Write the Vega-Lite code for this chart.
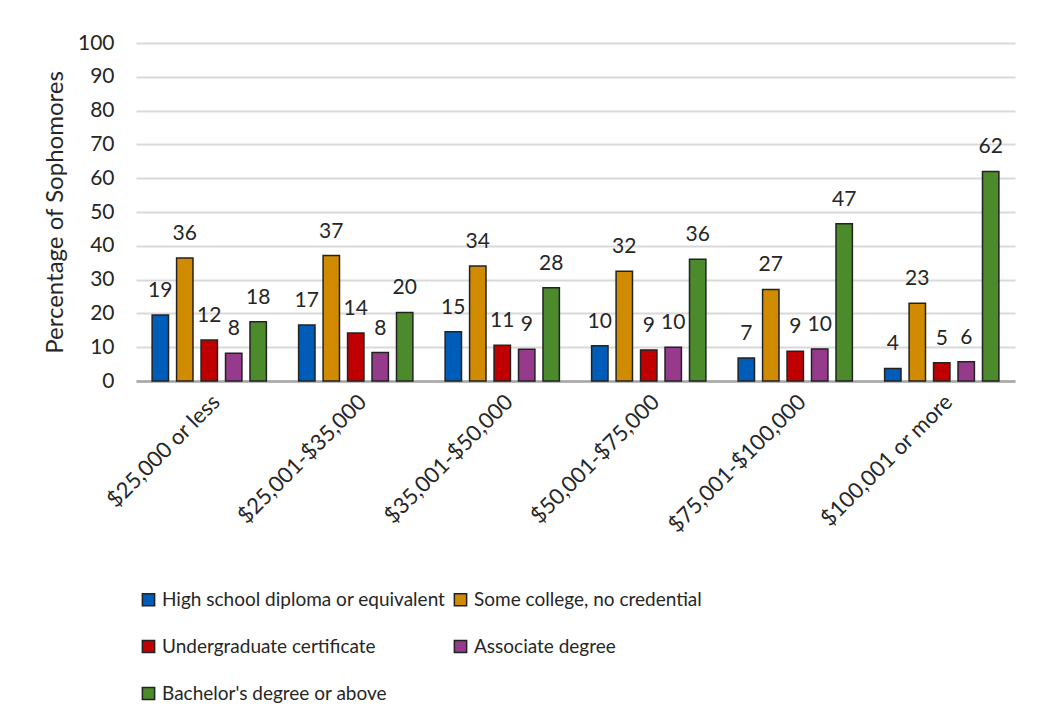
{
  "$schema": "https://vega.github.io/schema/vega-lite/v6.json",
  "width": 879,
  "height": 338,
  "autosize": "none",
  "padding": {"left": 136, "top": 43, "right": 29, "bottom": 342},
  "background": "white",
  "config": {
    "font": "Lato",
    "view": {"stroke": null},
    "axis": {"labelColor": "#262626", "titleColor": "#262626", "labelFont": "Lato", "titleFont": "Lato"}
  },
  "data": {
    "values": [
      {"income": "$25,000 or less", "level": "High school diploma or equivalent", "value": 19.5, "label": "19"},
      {"income": "$25,000 or less", "level": "Some college, no credential", "value": 36.4, "label": "36"},
      {"income": "$25,000 or less", "level": "Undergraduate certificate", "value": 12.1, "label": "12"},
      {"income": "$25,000 or less", "level": "Associate degree", "value": 8.2, "label": "8"},
      {"income": "$25,000 or less", "level": "Bachelor's degree or above", "value": 17.5, "label": "18"},
      {"income": "$25,001-$35,000", "level": "High school diploma or equivalent", "value": 16.6, "label": "17"},
      {"income": "$25,001-$35,000", "level": "Some college, no credential", "value": 37.1, "label": "37"},
      {"income": "$25,001-$35,000", "level": "Undergraduate certificate", "value": 14.2, "label": "14"},
      {"income": "$25,001-$35,000", "level": "Associate degree", "value": 8.4, "label": "8"},
      {"income": "$25,001-$35,000", "level": "Bachelor's degree or above", "value": 20.3, "label": "20"},
      {"income": "$35,001-$50,000", "level": "High school diploma or equivalent", "value": 14.6, "label": "15"},
      {"income": "$35,001-$50,000", "level": "Some college, no credential", "value": 34.0, "label": "34"},
      {"income": "$35,001-$50,000", "level": "Undergraduate certificate", "value": 10.6, "label": "11"},
      {"income": "$35,001-$50,000", "level": "Associate degree", "value": 9.4, "label": "9"},
      {"income": "$35,001-$50,000", "level": "Bachelor's degree or above", "value": 27.6, "label": "28"},
      {"income": "$50,001-$75,000", "level": "High school diploma or equivalent", "value": 10.4, "label": "10"},
      {"income": "$50,001-$75,000", "level": "Some college, no credential", "value": 32.5, "label": "32"},
      {"income": "$50,001-$75,000", "level": "Undergraduate certificate", "value": 9.2, "label": "9"},
      {"income": "$50,001-$75,000", "level": "Associate degree", "value": 10.0, "label": "10"},
      {"income": "$50,001-$75,000", "level": "Bachelor's degree or above", "value": 36.0, "label": "36"},
      {"income": "$75,001-$100,000", "level": "High school diploma or equivalent", "value": 6.8, "label": "7"},
      {"income": "$75,001-$100,000", "level": "Some college, no credential", "value": 27.1, "label": "27"},
      {"income": "$75,001-$100,000", "level": "Undergraduate certificate", "value": 8.8, "label": "9"},
      {"income": "$75,001-$100,000", "level": "Associate degree", "value": 9.5, "label": "10"},
      {"income": "$75,001-$100,000", "level": "Bachelor's degree or above", "value": 46.5, "label": "47"},
      {"income": "$100,001 or more", "level": "High school diploma or equivalent", "value": 3.7, "label": "4"},
      {"income": "$100,001 or more", "level": "Some college, no credential", "value": 23.0, "label": "23"},
      {"income": "$100,001 or more", "level": "Undergraduate certificate", "value": 5.4, "label": "5"},
      {"income": "$100,001 or more", "level": "Associate degree", "value": 5.7, "label": "6"},
      {"income": "$100,001 or more", "level": "Bachelor's degree or above", "value": 62.0, "label": "62"}
    ]
  },
  "encoding": {
    "x": {
      "field": "income", "type": "nominal", "sort": null,
      "scale": {"paddingInner": 0.22, "paddingOuter": 0.11},
      "axis": {
        "title": null, "labelAngle": -45, "labelFontSize": 22, "labelPadding": 10, "labelLimit": 400,
        "ticks": false, "domainColor": "#a6a6a6", "domainWidth": 2.5, "grid": false
      }
    },
    "xOffset": {
      "field": "level", "type": "nominal", "sort": ["High school diploma or equivalent", "Some college, no credential", "Undergraduate certificate", "Associate degree", "Bachelor's degree or above"],
      "scale": {"paddingInner": 0.33, "paddingOuter": 0}
    },
    "y": {
      "field": "value", "type": "quantitative",
      "scale": {"domain": [0, 100], "nice": false},
      "axis": {
        "title": "Percentage of Sophomores", "titleFontSize": 24, "titleFontWeight": "normal", "titlePadding": 10,
        "values": [0, 10, 20, 30, 40, 50, 60, 70, 80, 90, 100],
        "labelFontSize": 21, "labelPadding": 22, "domain": false, "ticks": false,
        "grid": true, "gridColor": "#d9d9d9", "gridWidth": 2
      }
    }
  },
  "layer": [
    {
      "mark": {"type": "bar", "stroke": "#222222", "strokeWidth": 1.5},
      "encoding": {
        "color": {
          "field": "level", "type": "nominal",
          "scale": {
            "domain": ["High school diploma or equivalent", "Undergraduate certificate", "Bachelor's degree or above", "Some college, no credential", "Associate degree"],
            "range": ["#005cb9", "#c00000", "#4c8b2b", "#d18b00", "#963a8c"]
          },
          "legend": {
            "title": null, "orient": "none", "legendX": 3, "legendY": 547, "columns": 2,
            "symbolType": "square", "symbolSize": 150, "symbolStrokeColor": "#222222", "symbolStrokeWidth": 1.5,
            "labelFont": "Lato", "labelFontSize": 19, "labelColor": "#262626",
            "rowPadding": 27, "columnPadding": 5, "labelOffset": 4,
            "labelLimit": 400, "padding": 0
          }
        }
      }
    },
    {
      "mark": {"type": "text", "baseline": "alphabetic", "dy": -18, "fontSize": 21, "color": "#262626"},
      "encoding": {"text": {"field": "label"}}
    }
  ]
}
